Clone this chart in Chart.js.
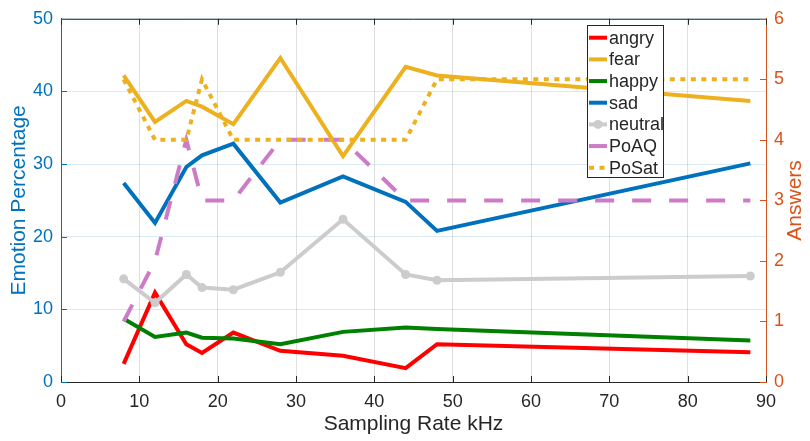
<!DOCTYPE html>
<html>
<head>
<meta charset="utf-8">
<script src="https://cdn.jsdelivr.net/npm/chart.js@4/dist/chart.umd.min.js"></script>
<style>
  html, body { margin: 0; padding: 0; background: #ffffff; }
  #wrap { width: 810px; height: 441px; position: relative; }
</style>
</head>
<body>
<div id="wrap"><canvas id="c" width="810" height="441"></canvas></div>
<script>
// Sampling rates (kHz) at which each measurement was taken
const rates = [8, 12, 16, 18, 22, 28, 36, 44, 48, 88];

// Emotion percentages (left axis)
const angry   = [2.5, 12.3, 5.2, 4.0, 6.8, 4.3, 3.6, 1.9, 5.2, 4.1];
const fear    = [42.2, 35.8, 38.7, 37.9, 35.5, 44.6, 31.1, 43.4, 42.2, 38.7];
const happy   = [8.7, 6.2, 6.8, 6.1, 6.0, 5.2, 6.9, 7.5, 7.3, 5.7];
const sad     = [27.4, 21.9, 29.6, 31.2, 32.8, 24.7, 28.3, 24.8, 20.8, 30.1];
const neutral = [14.2, 10.9, 14.8, 13.0, 12.7, 15.1, 22.4, 14.8, 14.0, 14.6];

// Answers (right axis)
const poAQ  = [1, 2, 4, 3, 3, 4, 4, 3, 3, 3];
const poSat = [5, 4, 4, 5, 4, 4, 4, 4, 5, 5];

// Tick values
const rateTicks    = [0, 10, 20, 30, 40, 50, 60, 70, 80, 90];
const percentTicks = [0, 10, 20, 30, 40, 50];
const answerTicks  = [0, 1, 2, 3, 4, 5, 6];

const FONT = "'Liberation Sans', Arial, Helvetica, sans-serif";
const DARK = '#262626';
const BLUE = '#0072BD';
const ORANGE = '#D95319';

const pts = arr => rates.map((r, i) => ({ x: r, y: arr[i] }));

const series = [
  { label: 'angry',   data: angry,   color: '#FF0000', axis: 'y' },
  { label: 'fear',    data: fear,    color: '#EDB120', axis: 'y' },
  { label: 'happy',   data: happy,   color: '#008000', axis: 'y' },
  { label: 'sad',     data: sad,     color: '#0072BD', axis: 'y' },
  { label: 'neutral', data: neutral, color: '#CCCCCC', axis: 'y', marker: true },
  { label: 'PoAQ',    data: poAQ,    color: '#CD7BC7', axis: 'y1', dash: [19, 18] },
  { label: 'PoSat',   data: poSat,   color: '#EDB120', axis: 'y1', dash: [5, 5.5] }
];

const datasets = series.map((s, i) => ({
  label: s.label,
  data: pts(s.data),
  yAxisID: s.axis,
  borderColor: s.color,
  backgroundColor: s.color,
  borderWidth: 4,
  borderDash: s.dash || [],
  borderCapStyle: 'butt',
  borderJoinStyle: 'miter',
  pointRadius: s.marker ? 4.5 : 0,
  pointBorderWidth: 0,
  pointBackgroundColor: s.color,
  tension: 0,
  fill: false,
  order: 10 - i
}));

// Inward tick marks and the top edge of the box
const frame = {
  id: 'frame',
  afterDatasetsDraw(chart) {
    const { ctx, chartArea: a, scales } = chart;
    ctx.save();
    ctx.lineWidth = 1;
    ctx.setLineDash([]);
    ctx.strokeStyle = DARK;
    ctx.beginPath();
    ctx.moveTo(a.left, a.top + 0.5);
    ctx.lineTo(a.right, a.top + 0.5);
    rateTicks.forEach(v => {
      const px = Math.round(scales.x.getPixelForValue(v)) + 0.5;
      ctx.moveTo(px, a.bottom);
      ctx.lineTo(px, a.bottom - 6);
      ctx.moveTo(px, a.top);
      ctx.lineTo(px, a.top + 6);
    });
    ctx.stroke();

    ctx.strokeStyle = BLUE;
    ctx.beginPath();
    percentTicks.forEach(v => {
      const py = Math.round(scales.y.getPixelForValue(v)) + 0.5;
      ctx.moveTo(a.left, py);
      ctx.lineTo(a.left + 6, py);
    });
    ctx.stroke();

    ctx.strokeStyle = ORANGE;
    ctx.beginPath();
    answerTicks.forEach(v => {
      const py = Math.round(scales.y1.getPixelForValue(v)) + 0.5;
      ctx.moveTo(a.right, py);
      ctx.lineTo(a.right - 6, py);
    });
    ctx.stroke();
    ctx.restore();
  },
  afterDraw(chart) {
    // Right axis title, reading bottom to top
    const { ctx, chartArea: a } = chart;
    ctx.save();
    ctx.translate(795, (a.top + a.bottom) / 2);
    ctx.rotate(-Math.PI / 2);
    ctx.fillStyle = ORANGE;
    ctx.font = `21px ${FONT}`;
    ctx.textAlign = 'center';
    ctx.textBaseline = 'middle';
    ctx.fillText('Answers', 0, 0);
    ctx.restore();
  }
};

// Boxed legend inside the plot
const legendBox = {
  id: 'legendBox',
  afterDraw(chart, args, o) {
    const ctx = chart.ctx;
    ctx.save();
    ctx.fillStyle = '#ffffff';
    ctx.fillRect(o.x, o.y, o.w, o.h);
    ctx.strokeStyle = DARK;
    ctx.lineWidth = 1;
    ctx.setLineDash([]);
    ctx.strokeRect(o.x + 0.5, o.y + 0.5, o.w, o.h);
    chart.data.datasets.forEach((ds, i) => {
      const cy = o.y + o.first + i * o.row;
      ctx.strokeStyle = ds.borderColor;
      ctx.lineWidth = ds.borderWidth;
      ctx.lineCap = 'butt';
      ctx.setLineDash(ds.borderDash || []);
      ctx.beginPath();
      ctx.moveTo(o.x + 2, cy);
      ctx.lineTo(o.x + 20, cy);
      ctx.stroke();
      if (ds.pointRadius) {
        ctx.fillStyle = ds.borderColor;
        ctx.beginPath();
        ctx.arc(o.x + 11, cy, ds.pointRadius, 0, Math.PI * 2);
        ctx.fill();
      }
      ctx.setLineDash([]);
      ctx.fillStyle = DARK;
      ctx.font = `18px ${FONT}`;
      ctx.textAlign = 'left';
      ctx.textBaseline = 'middle';
      ctx.fillText(ds.label, o.x + 22, cy + 1);
    });
    ctx.restore();
  }
};

new Chart(document.getElementById('c'), {
  type: 'line',
  data: { datasets },
  plugins: [frame, legendBox],
  options: {
    responsive: false,
    animation: false,
    devicePixelRatio: 1,
    layout: { padding: { top: 14, left: 0, right: 0, bottom: 0 } },
    plugins: {
      legend: { display: false },
      tooltip: { enabled: false },
      legendBox: { x: 587, y: 25, w: 76, h: 152, first: 12.7, row: 21.67 }
    },
    scales: {
      x: {
        type: 'linear',
        min: 0, max: 90,
        afterBuildTicks: s => { s.ticks = rateTicks.map(v => ({ value: v })); },
        afterFit: s => { s.height = 59; },
        grid: { color: 'rgba(38,38,38,0.15)', lineWidth: 1, drawTicks: false },
        border: { color: DARK, width: 1 },
        ticks: { color: DARK, font: { family: FONT, size: 18 }, padding: 9, maxRotation: 0 },
        title: { display: true, text: 'Sampling Rate kHz', color: DARK,
                 font: { family: FONT, size: 21 }, padding: { top: 0, bottom: 4 } }
      },
      y: {
        type: 'linear',
        position: 'left',
        min: 0, max: 50,
        afterBuildTicks: s => { s.ticks = percentTicks.map(v => ({ value: v })); },
        afterFit: s => { s.width = 61; },
        grid: { color: 'rgba(0,114,189,0.15)', lineWidth: 1, drawTicks: false },
        border: { color: BLUE, width: 1 },
        ticks: { color: BLUE, font: { family: FONT, size: 18 }, padding: 8 },
        title: { display: true, text: 'Emotion Percentage', color: BLUE,
                 font: { family: FONT, size: 21 }, padding: { top: 7, bottom: 0 } }
      },
      y1: {
        type: 'linear',
        position: 'right',
        min: 0, max: 6,
        afterBuildTicks: s => { s.ticks = answerTicks.map(v => ({ value: v })); },
        afterFit: s => { s.width = 44; },
        grid: { drawOnChartArea: false, drawTicks: false },
        border: { color: ORANGE, width: 1 },
        ticks: { color: ORANGE, font: { family: FONT, size: 18 }, padding: 8 },
        title: { display: false }
      }
    }
  }
});
</script>
</body>
</html>
